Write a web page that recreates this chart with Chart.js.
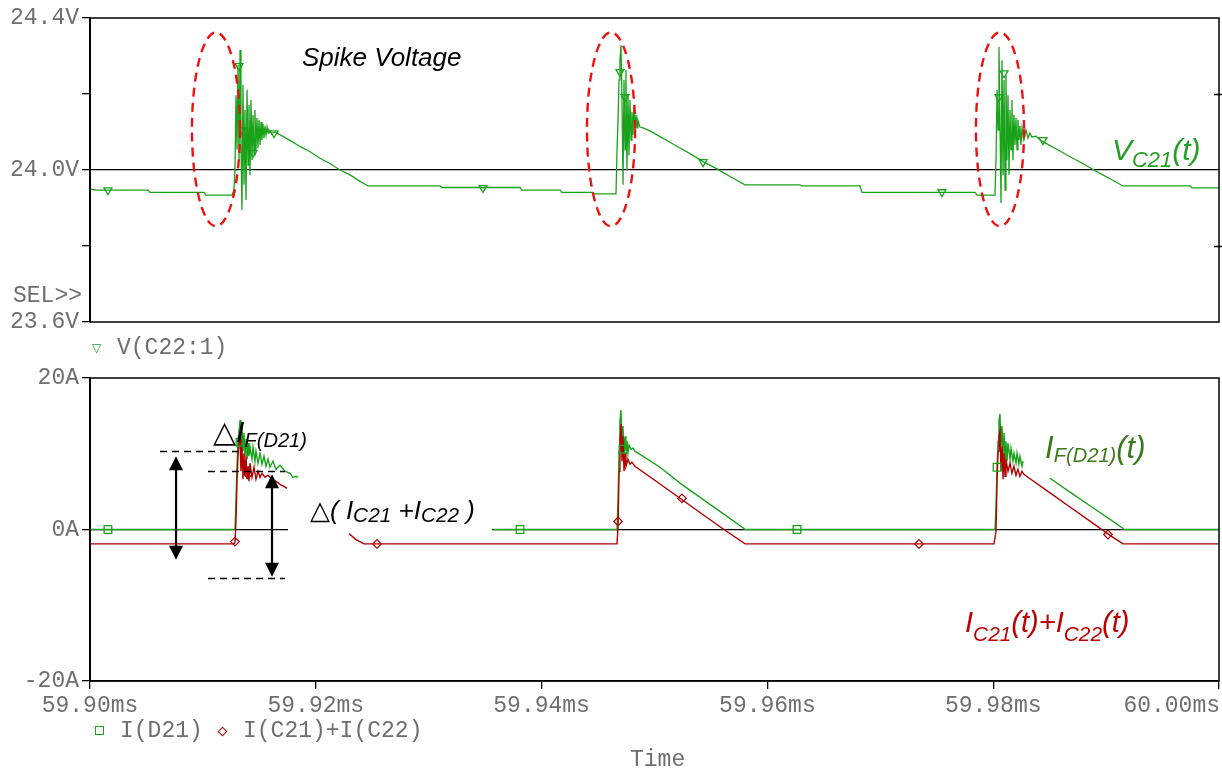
<!DOCTYPE html>
<html>
<head>
<meta charset="utf-8">
<script src="https://cdn.jsdelivr.net/npm/chart.js@4/dist/chart.umd.min.js"></script>
<style>
  html, body { margin: 0; padding: 0; background: #fff; }
  #stage { position: relative; width: 1222px; height: 770px; overflow: hidden; background: #fff; }
  canvas { position: absolute; left: 0; }
  .mono { position: absolute; font: 23px "Liberation Mono", monospace; color: #6e6e6e; line-height: 1; white-space: pre; }
  .ann { position: absolute; font-family: "Liberation Sans", Arial, sans-serif; font-style: italic; line-height: 1; white-space: pre; }
  .ann sub { line-height: 0; vertical-align: baseline; position: relative; }
  .tri { font-family: "DejaVu Sans", sans-serif; font-style: normal; }
  .sym { position: absolute; font-family: "DejaVu Sans", sans-serif; line-height: 1; }
</style>
</head>
<body>
<div id="stage">
  <canvas id="vPanel" width="1222" height="340" style="top:0"></canvas>
  <canvas id="iPanel" width="1222" height="430" style="top:340px"></canvas>

  <div class="mono" style="left:13px; top:285px">SEL&gt;&gt;</div>
  <div class="sym" style="left:92px; top:342px; font-size:12px; color:#1aa31a">▽</div>
  <div class="mono" style="left:117px; top:337px">V(C22:1)</div>
  <div class="sym" style="left:95px; top:726px; width:7px; height:7px; border:1.4px solid #1aa31a"></div>
  <div class="mono" style="left:120px; top:720px">I(D21)</div>
  <div class="sym" style="left:219px; top:728px; width:5px; height:5px; border:1.3px solid #c00000; transform:rotate(45deg)"></div>
  <div class="mono" style="left:243px; top:720px">I(C21)+I(C22)</div>
  <div class="mono" style="left:630px; top:749px">Time</div>

  <div class="ann" style="left:302px; top:44px; font-size:26px; color:#000">Spike Voltage</div>
  <div class="ann" style="left:1112px; top:135px; font-size:30px; color:#22a022">V<sub style="font-size:0.73em; top:7px">C21</sub>(t)</div>
  <div class="ann" style="left:213px; top:417px; font-size:30px; color:#000"><span class="tri">△</span>I<sub style="font-size:0.67em; top:5px">F(D21)</sub></div>
  <div class="ann" style="left:310px; top:497px; font-size:26px; color:#000"><span class="tri">△</span>( I<sub style="font-size:0.8em; top:3px">C21</sub> +I<sub style="font-size:0.8em; top:3px">C22</sub> )</div>
  <div class="ann" style="left:1045px; top:432px; font-size:31px; color:#3b7a1a">I<sub style="font-size:0.65em; top:4px">F(D21)</sub>(t)</div>
  <div class="ann" style="left:965px; top:608px; font-size:29px; color:#c00000">I<sub style="font-size:0.72em; top:9px">C21</sub>(t)+I<sub style="font-size:0.72em; top:9px">C22</sub>(t)</div>
</div>

<script>
// Time in microseconds (59900 us = 59.90 ms), voltages in V, currents in A.
const TIME_MIN = 59900;
const TIME_MAX = 60000;
const TIME_TICKS = [59900, 59920, 59940, 59960, 59980, 60000];

const V_TICKS = [23.6, 23.8, 24.0, 24.2, 24.4];
const V_LABELLED = [23.6, 24.0, 24.4];
const I_TICKS = [-20, 0, 20];

// V(C22:1)
const vC22 = [
  [59900.00,23.950],[59900.53,23.947],[59905.14,23.947],[59905.31,23.941],[59910.10,23.941],[59910.27,23.934],
  [59912.58,23.934],[59912.75,23.947],[59912.84,24.000],[59912.93,24.197],[59913.02,24.053],[59913.11,24.276],
  [59913.20,24.026],[59913.29,24.316],[59913.37,24.079],[59913.46,23.895],[59913.55,24.224],[59913.64,23.961],
  [59913.73,24.158],[59913.82,23.921],[59913.91,24.211],[59914.00,24.013],[59914.08,24.171],[59914.17,23.987],
  [59914.26,24.184],[59914.35,24.026],[59914.44,24.145],[59914.53,24.039],[59914.61,24.158],[59914.70,24.053],
  [59914.79,24.137],[59914.88,24.058],[59914.97,24.132],[59915.06,24.066],[59915.15,24.126],[59915.23,24.079],
  [59915.32,24.121],[59915.41,24.084],[59915.50,24.116],[59915.59,24.092],[59915.68,24.113],[59915.77,24.097],
  [59915.85,24.105],[59915.94,24.100],[59916.12,24.097],[59916.39,24.100],[59917.71,24.078],[59918.60,24.062],
  [59919.49,24.048],[59920.37,24.031],[59921.26,24.017],[59922.14,24.000],[59923.03,23.987],[59923.92,23.970],
  [59924.62,23.958],[59931.00,23.958],[59931.18,23.954],[59938.09,23.954],[59938.26,23.947],[59941.63,23.947],
  [59941.81,23.941],[59944.55,23.941],[59944.72,23.937],[59946.59,23.937],
  [59946.68,24.053],[59946.77,24.132],[59946.86,24.237],[59946.94,24.289],[59947.03,24.329],[59947.12,24.184],
  [59947.21,23.961],[59947.30,24.237],[59947.39,24.053],[59947.47,24.263],[59947.56,24.000],[59947.65,24.197],
  [59947.74,24.039],[59947.83,24.184],[59947.92,24.079],[59948.00,24.153],[59948.09,24.092],[59948.18,24.171],
  [59948.27,24.105],[59948.36,24.145],[59948.45,24.111],[59948.53,24.132],[59948.71,24.113],[59948.97,24.111],
  [59949.60,24.103],[59950.49,24.088],[59951.37,24.073],[59952.26,24.058],[59953.14,24.043],[59954.30,24.022],
  [59955.54,24.003],[59956.69,23.983],[59958.02,23.961],[59962.89,23.961],[59963.06,23.958],[59968.20,23.958],
  [59968.38,23.941],[59978.39,23.941],[59978.57,23.934],[59980.16,23.934],
  [59980.25,24.026],[59980.34,24.211],[59980.43,24.105],[59980.51,24.324],[59980.60,24.132],[59980.69,23.913],
  [59980.78,24.289],[59980.87,23.987],[59980.96,24.237],[59981.05,23.947],[59981.13,24.250],[59981.22,24.026],
  [59981.31,24.197],[59981.40,23.987],[59981.49,24.158],[59981.58,24.053],[59981.66,24.184],[59981.75,24.026],
  [59981.84,24.145],[59981.93,24.066],[59982.02,24.137],[59982.11,24.053],[59982.19,24.132],[59982.28,24.079],
  [59982.37,24.116],[59982.46,24.066],[59982.55,24.111],[59982.72,24.079],[59982.90,24.105],[59983.08,24.084],
  [59983.25,24.097],[59983.43,24.087],[59983.79,24.089],[59984.15,24.079],[59985.03,24.064],[59985.92,24.050],
  [59986.80,24.035],[59987.69,24.021],[59988.57,24.006],[59989.46,23.991],[59990.35,23.977],[59991.50,23.958],
  [59997.43,23.958],[59997.61,23.953],[60000.00,23.953]
];
const vC22Marks = [
  [59901.59,23.947],[59913.20,24.274],[59913.46,24.105],[59914.44,24.045],[59916.30,24.097],[59934.81,23.953],
  [59946.94,24.258],[59947.39,24.192],[59954.30,24.021],[59975.46,23.942],[59980.51,24.192],[59980.96,24.255],
  [59984.41,24.079]
];

// I(D21)
const iD21 = [
  [59900.00,0],[59912.84,0],[59912.93,3.71],[59913.02,8.35],[59913.11,11.66],[59913.20,12.99],[59913.29,14.44],
  [59913.37,11.00],[59913.46,13.65],[59913.55,10.34],[59913.64,12.72],[59913.73,9.67],[59913.82,11.93],
  [59913.91,9.28],[59914.00,11.40],[59914.08,9.67],[59914.17,10.87],[59914.35,9.28],[59914.44,10.87],
  [59914.61,9.01],[59914.70,10.34],[59914.88,8.75],[59915.06,10.07],[59915.23,8.61],[59915.41,9.67],
  [59915.59,8.35],[59915.77,9.28],[59915.94,8.22],[59916.21,9.01],[59916.47,7.95],[59916.83,8.48],
  [59917.27,7.69],[59917.71,7.42],[59917.98,6.89],[59918.25,7.02],[59918.42,6.89],[59918.50,null],
  [59935.70,0],[59946.68,0],[59946.77,3.71],[59946.86,10.34],[59946.94,14.31],[59947.03,15.77],[59947.12,11.00],
  [59947.21,13.65],[59947.30,9.67],[59947.39,12.32],[59947.47,10.34],[59947.56,11.66],[59947.65,10.07],
  [59947.74,11.13],[59947.92,10.60],[59948.09,10.73],[59948.27,10.34],[59950.49,8.22],[59952.26,6.12],
  [59954.03,4.25],[59955.80,2.39],[59957.93,0.13],[59958.02,0],[59980.16,0],
  [59980.25,3.05],[59980.34,8.22],[59980.43,11.66],[59980.51,14.31],[59980.60,15.24],[59980.69,11.00],
  [59980.78,13.65],[59980.87,9.67],[59980.96,12.72],[59981.05,9.28],[59981.13,11.66],[59981.22,9.01],
  [59981.31,11.40],[59981.49,9.28],[59981.58,10.73],[59981.75,9.01],[59981.84,10.07],[59982.02,8.75],
  [59982.11,10.07],[59982.28,8.61],[59982.37,9.67],[59982.55,8.35],[59982.64,9.01],[59982.70,null],
  [59985.03,6.76],[59986.80,4.94],[59988.57,3.13],[59990.35,1.33],[59991.50,0.13],[59991.60,0],[60000.00,0]
];
const iD21Marks = [
  [59901.59,0],[59913.29,11.53],[59938.09,0],[59947.21,10.60],[59962.62,0],[59980.34,8.22]
];

// I(C21)+I(C22)
const iC21C22 = [
  [59900.00,-1.9],[59912.75,-1.9],[59912.84,-1.72],[59912.93,1.06],[59913.02,6.36],[59913.11,9.67],
  [59913.20,11.66],[59913.29,12.06],[59913.37,7.69],[59913.46,11.00],[59913.55,6.63],[59913.64,10.07],
  [59913.73,7.02],[59913.82,9.67],[59913.91,6.63],[59914.00,8.35],[59914.08,6.36],[59914.17,8.75],
  [59914.35,6.89],[59914.53,8.22],[59914.70,6.63],[59914.88,7.69],[59915.06,6.89],[59915.23,7.42],
  [59915.50,6.89],[59915.77,7.16],[59916.12,6.63],[59916.47,6.36],[59916.83,5.96],[59917.18,5.70],
  [59917.45,5.43],[59917.50,null],[59922.94,-0.53],[59923.56,-1.33],[59924.27,-1.9],[59946.68,-1.9],
  [59946.77,0.40],[59946.86,7.69],[59946.94,11.66],[59947.03,13.91],[59947.12,9.01],[59947.21,12.32],
  [59947.30,7.69],[59947.39,10.07],[59947.47,8.35],[59947.65,9.28],[59947.83,8.61],[59948.00,8.88],
  [59948.27,8.35],[59950.49,6.00],[59952.26,4.12],[59954.03,2.24],[59955.80,0.36],[59958.02,-1.9],
  [59980.07,-1.9],[59980.25,-0.27],[59980.34,6.36],[59980.43,10.34],[59980.51,12.32],[59980.60,12.99],
  [59980.69,7.69],[59980.78,11.00],[59980.87,6.63],[59980.96,10.07],[59981.05,7.02],[59981.13,9.28],
  [59981.31,7.69],[59981.49,8.75],[59981.66,7.42],[59981.84,8.35],[59982.02,7.16],[59982.19,7.95],
  [59982.37,7.02],[59982.55,7.69],[59982.72,7.29],[59983.08,6.89],[59985.03,4.84],[59986.80,2.97],
  [59988.57,1.10],[59990.35,-0.77],[59991.50,-1.9],[60000.00,-1.9]
];
const iC21C22Marks = [
  [59912.84,-1.6],[59914.00,7.29],[59925.42,-1.9],[59946.77,1.06],[59952.43,4.11],[59973.43,-1.9],[59990.17,-0.66]
];

// Dashed rings around the voltage spikes: centre (t, V) and half-extent (dt, dV)
const spikeRings = [
  { t: 59911.16, v: 24.107, dt: 2.13, dv: 0.255 },
  { t: 59946.15, v: 24.107, dt: 2.13, dv: 0.255 },
  { t: 59980.60, v: 24.107, dt: 2.13, dv: 0.255 }
];
// Ripple-amplitude guides on the first current pulse (t in us, I in A)
const rippleLevels = [
  { from: 59906.20, to: 59913.11, at: 10.34 },
  { from: 59910.45, to: 59917.27, at: 7.69 },
  { from: 59910.45, to: 59917.27, at: -6.36 }
];
const rippleArrows = [
  { t: 59907.62, hi: 9.67, lo: -3.98 },
  { t: 59916.12, hi: 7.29, lo: -6.23 }
];
// Blank backing behind the delta(I_C21+I_C22) caption
const captionBacking = { from: 59917.54, to: 59935.61, hi: 1.5, lo: -1.0 };

const GREEN = '#1aa31a';
const RED = '#b00000';
const GREY = '#6e6e6e';
const MONO = { family: 'Liberation Mono', size: 23 };
const xy = a => a.map(([x, y]) => ({ x, y }));
const near = (a, b) => Math.abs(a - b) < 1e-6;
const fmtTime = v => (v / 1000).toFixed(2) + 'ms';

Chart.defaults.font.family = 'Liberation Mono';
Chart.defaults.animation = false;

const base = {
  responsive: false,
  devicePixelRatio: 1,
  events: [],
  plugins: { legend: { display: false }, tooltip: { enabled: false } }
};

// ---------- voltage panel ----------
const vPanelDeco = {
  id: 'vPanelDeco',
  afterDatasetsDraw(chart) {
    const { ctx, chartArea: a, scales: { x, y } } = chart;
    ctx.save();
    ctx.strokeStyle = '#000';
    ctx.lineWidth = 1.5;
    ctx.strokeRect(a.left, a.top, a.right - a.left, a.bottom - a.top);
    V_TICKS.filter(v => !V_LABELLED.some(l => near(l, v))).forEach(v => {
      const py = Math.round(y.getPixelForValue(v)) + 0.5;
      ctx.beginPath();
      ctx.moveTo(a.right - 5, py);
      ctx.lineTo(a.right + 3, py);
      ctx.stroke();
    });
    ctx.strokeStyle = '#ee1111';
    ctx.lineWidth = 2.4;
    ctx.setLineDash([9, 6]);
    spikeRings.forEach(r => {
      const cx = x.getPixelForValue(r.t), cy = y.getPixelForValue(r.v);
      const rx = Math.abs(x.getPixelForValue(r.t + r.dt) - cx);
      const ry = Math.abs(y.getPixelForValue(r.v + r.dv) - cy);
      ctx.beginPath();
      ctx.ellipse(cx, cy, rx, ry, 0, 0, Math.PI * 2);
      ctx.stroke();
    });
    ctx.restore();
  }
};

new Chart(document.getElementById('vPanel'), {
  type: 'scatter',
  data: {
    datasets: [
      { data: xy(vC22Marks), pointStyle: 'triangle', rotation: 180, pointRadius: 4.6,
        borderColor: GREEN, backgroundColor: 'rgba(0,0,0,0)', borderWidth: 1.3 },
      { data: xy(vC22), showLine: true, borderColor: GREEN, borderWidth: 1.3, pointRadius: 0, tension: 0 }
    ]
  },
  options: {
    ...base,
    layout: { padding: { top: 18, right: 3, bottom: 18, left: 0 }, autoPadding: false },
    scales: {
      x: { type: 'linear', min: TIME_MIN, max: TIME_MAX, display: false },
      y: {
        min: 23.6, max: 24.4,
        afterBuildTicks: s => { s.ticks = V_TICKS.map(value => ({ value })); },
        afterFit: s => { s.width = 90; },
        ticks: {
          font: MONO, color: GREY, padding: 3,
          callback: v => V_LABELLED.some(l => near(l, v)) ? v.toFixed(1) + 'V' : ''
        },
        grid: {
          color: c => (c.tick && near(c.tick.value, 24)) ? '#000' : 'rgba(0,0,0,0)',
          tickColor: '#000', tickLength: 8, lineWidth: 1.3
        },
        border: { display: true, color: '#000', width: 2 }
      }
    }
  },
  plugins: [vPanelDeco]
});

// ---------- current panel ----------
function arrowHead(ctx, x, y, dir) {
  ctx.beginPath();
  ctx.moveTo(x, y);
  ctx.lineTo(x - 7, y - dir * 14);
  ctx.lineTo(x + 7, y - dir * 14);
  ctx.closePath();
  ctx.fill();
}

const iPanelDeco = {
  id: 'iPanelDeco',
  beforeDatasetsDraw(chart) {
    const { ctx, scales: { x, y } } = chart;
    const b = captionBacking;
    const x0 = x.getPixelForValue(b.from), x1 = x.getPixelForValue(b.to);
    const y0 = y.getPixelForValue(b.hi), y1 = y.getPixelForValue(b.lo);
    ctx.save();
    ctx.fillStyle = '#fff';
    ctx.fillRect(x0, y0, x1 - x0, y1 - y0);
    ctx.restore();
  },
  afterDatasetsDraw(chart) {
    const { ctx, chartArea: a, scales: { x, y } } = chart;
    ctx.save();
    ctx.strokeStyle = '#000';
    ctx.lineWidth = 1.5;
    ctx.strokeRect(a.left, a.top, a.right - a.left, a.bottom - a.top);

    ctx.setLineDash([7, 5]);
    ctx.lineWidth = 1.6;
    rippleLevels.forEach(l => {
      const py = Math.round(y.getPixelForValue(l.at)) + 0.5;
      ctx.beginPath();
      ctx.moveTo(x.getPixelForValue(l.from), py);
      ctx.lineTo(x.getPixelForValue(l.to), py);
      ctx.stroke();
    });
    ctx.setLineDash([]);
    ctx.lineWidth = 2.2;
    ctx.fillStyle = '#000';
    rippleArrows.forEach(ar => {
      const px = x.getPixelForValue(ar.t);
      const top = y.getPixelForValue(ar.hi), bot = y.getPixelForValue(ar.lo);
      ctx.beginPath();
      ctx.moveTo(px, top + 10);
      ctx.lineTo(px, bot - 10);
      ctx.stroke();
      arrowHead(ctx, px, top, -1);
      arrowHead(ctx, px, bot, 1);
    });
    ctx.restore();
  },
  afterDraw(chart) {
    // last time label sits flush with the right edge of the frame
    const { ctx, scales: { x } } = chart;
    ctx.save();
    ctx.font = '23px "Liberation Mono"';
    ctx.fillStyle = GREY;
    ctx.textAlign = 'right';
    ctx.textBaseline = 'top';
    ctx.fillText(fmtTime(x.max), chart.chartArea.right + 1, x.top + 8 + 5);
    ctx.restore();
  }
};

new Chart(document.getElementById('iPanel'), {
  type: 'scatter',
  data: {
    datasets: [
      { data: xy(iC21C22Marks), pointStyle: 'rectRot', pointRadius: 4.3,
        borderColor: RED, backgroundColor: 'rgba(0,0,0,0)', borderWidth: 1.2 },
      { data: xy(iD21Marks), pointStyle: 'rect', pointRadius: 5.4,
        borderColor: GREEN, backgroundColor: 'rgba(0,0,0,0)', borderWidth: 1.3 },
      { data: xy(iC21C22), showLine: true, borderColor: RED, borderWidth: 1.4, pointRadius: 0, tension: 0, spanGaps: false },
      { data: xy(iD21), showLine: true, borderColor: GREEN, borderWidth: 1.4, pointRadius: 0, tension: 0, spanGaps: false }
    ]
  },
  options: {
    ...base,
    layout: { padding: { top: 38, right: 3, bottom: 0, left: 0 }, autoPadding: false },
    scales: {
      x: {
        type: 'linear', min: TIME_MIN, max: TIME_MAX,
        afterBuildTicks: s => { s.ticks = TIME_TICKS.map(value => ({ value })); },
        afterFit: s => { s.height = 89; },
        ticks: {
          font: MONO, color: GREY, padding: 3, maxRotation: 0, autoSkip: false,
          callback: v => near(v, TIME_MAX) ? '' : fmtTime(v)
        },
        grid: { drawOnChartArea: false, color: '#000', tickColor: '#000', tickLength: 8, lineWidth: 1.3 },
        border: { display: true, color: '#000', width: 1.5 }
      },
      y: {
        min: -20, max: 20,
        afterBuildTicks: s => { s.ticks = I_TICKS.map(value => ({ value })); },
        afterFit: s => { s.width = 90; },
        ticks: { font: MONO, color: GREY, padding: 3, callback: v => v + 'A' },
        grid: {
          color: c => (c.tick && near(c.tick.value, 0)) ? '#000' : 'rgba(0,0,0,0)',
          tickColor: '#000', tickLength: 8, lineWidth: 1.3
        },
        border: { display: true, color: '#000', width: 2 }
      }
    }
  },
  plugins: [iPanelDeco]
});
</script>
</body>
</html>
